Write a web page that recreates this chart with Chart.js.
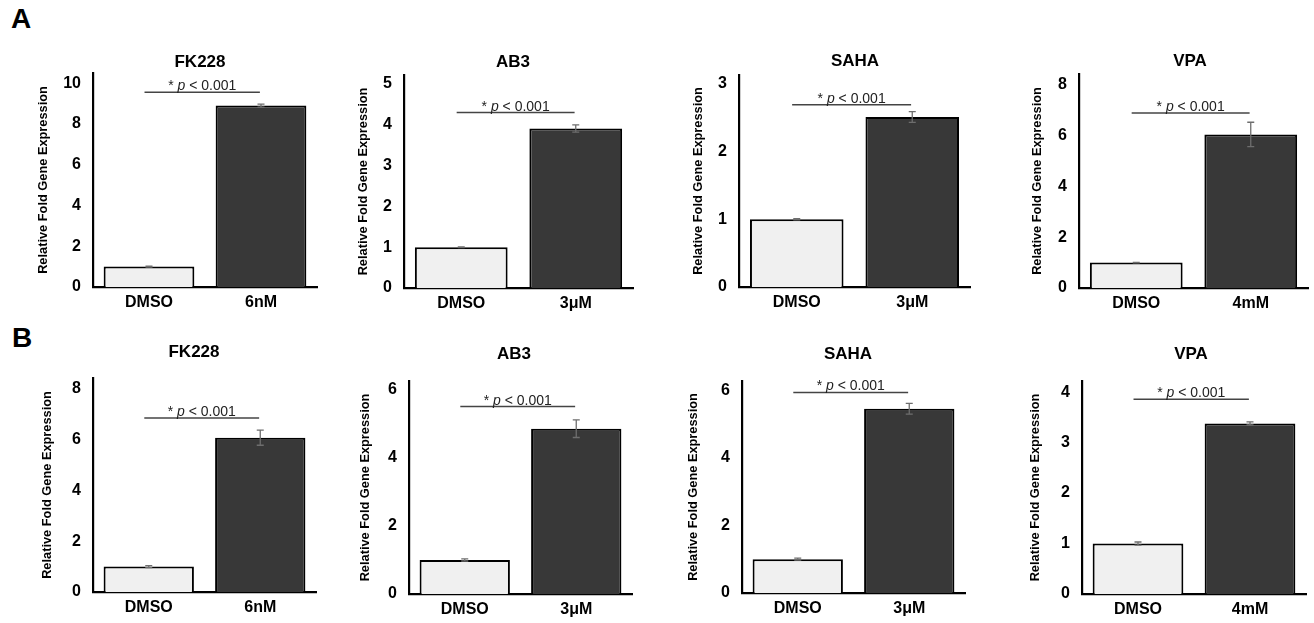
<!DOCTYPE html>
<html>
<head>
<meta charset="utf-8">
<script src="https://cdn.jsdelivr.net/npm/chart.js@4.4.0/dist/chart.umd.min.js"></script>
<style>
  body { margin: 0; background: #fff; width: 1314px; height: 623px; position: relative; overflow: hidden; font-family: "Liberation Sans", Arial, sans-serif; }
  canvas { position: absolute; }
  .letter { position: absolute; font-weight: bold; font-size: 28px; line-height: 28px; color: #000; }
</style>
</head>
<body>
<div class="letter" style="left:11px;top:5px">A</div>
<div class="letter" style="left:12px;top:324px">B</div>
<script>
const drugs = ['FK228', 'AB3', 'SAHA', 'VPA'];
const doses = ['6nM', '3μM', '3μM', '4mM'];
const control = 'DMSO';
const pParts = ['* ', 'p', ' < 0.001'];

// Panel A
const valuesA = [[1.0, 8.9], [1.0, 3.91], [1.0, 2.51], [1.0, 6.05]];
const errorsA = [[0.02, 0.07], [0.01, 0.09], [0.01, 0.08], [0.01, 0.48]];
const ticksA = [[0, 2, 4, 6, 8, 10], [0, 1, 2, 3, 4, 5], [0, 1, 2, 3], [0, 2, 4, 6, 8]];
const axisMaxA = [10.5, 5.22, 3.13, 8.43];
const bracketA = [9.55, 4.3, 2.69, 6.89];

// Panel B
const valuesB = [[1.0, 6.08], [1.0, 4.86], [1.0, 5.45], [1.0, 3.38]];
const errorsB = [[0.04, 0.3], [0.03, 0.26], [0.03, 0.16], [0.03, 0.03]];
const ticksB = [[0, 2, 4, 6, 8], [0, 2, 4, 6], [0, 2, 4, 6], [0, 1, 2, 3, 4]];
const axisMaxB = [8.43, 6.26, 6.27, 4.22];
const bracketB = [6.85, 5.51, 5.93, 3.86];

// where the bracket starts/ends, in category units
const bracketSpan = [-0.04, 0.99];

// plot frames on the page: left, right, top, bottom of axes, title centre, y title centre
const framesA = [
    { L: 93, R: 317, T: 73, B: 287, tx: 200, ty: 62, yt: 43 },
    { L: 404, R: 633, T: 75, B: 288, tx: 513, ty: 62, yt: 363 },
    { L: 739, R: 970, T: 75, B: 287, tx: 855, ty: 61, yt: 698 },
    { L: 1079, R: 1308, T: 74, B: 288, tx: 1190, ty: 61, yt: 1037 }
];
const framesB = [
    { L: 93, R: 316, T: 378, B: 592, tx: 194, ty: 352, yt: 47 },
    { L: 409, R: 632, T: 381, B: 594, tx: 514, ty: 354, yt: 365 },
    { L: 742, R: 965, T: 381, B: 593, tx: 848, ty: 354, yt: 693 },
    { L: 1082, R: 1306, T: 381, B: 594, tx: 1191, ty: 354, yt: 1035 }
];

const FONT = '"Liberation Sans", Arial, sans-serif';
Chart.defaults.font.family = FONT;
Chart.defaults.color = '#000';

const yW = 92, padTop = 50, padRight = 6, xH = 30;

const annotate = {
    id: 'annotate',
    afterDatasetsDraw(chart, args, opts) {
        const p = opts.panel;
        if (!p) return;
        const ctx = chart.ctx;
        const xs = chart.scales.x, ys = chart.scales.y;
        ctx.save();

        // error bars
        ctx.strokeStyle = '#6e6e6e';
        ctx.lineWidth = 1.3;
        p.values.forEach((v, i) => {
            const cx = xs.getPixelForValue(i);
            const top = ys.getPixelForValue(v + p.errors[i]);
            const bot = ys.getPixelForValue(v - p.errors[i]);
            ctx.beginPath();
            ctx.moveTo(cx, top); ctx.lineTo(cx, bot);
            ctx.moveTo(cx - 3.5, top); ctx.lineTo(cx + 3.5, top);
            ctx.moveTo(cx - 3.5, bot); ctx.lineTo(cx + 3.5, bot);
            ctx.stroke();
        });

        // significance line
        const by = ys.getPixelForValue(p.bracket);
        const x0 = xs.getPixelForValue(bracketSpan[0]);
        const x1 = xs.getPixelForValue(bracketSpan[1]);
        ctx.strokeStyle = '#444';
        ctx.lineWidth = 1.5;
        ctx.beginPath();
        ctx.moveTo(x0, by); ctx.lineTo(x1, by);
        ctx.stroke();

        // "* p < 0.001" with italic p
        const fonts = ['14px ' + FONT, 'italic 14px ' + FONT, '14px ' + FONT];
        let total = 0;
        const widths = pParts.map((t, i) => { ctx.font = fonts[i]; const w = ctx.measureText(t).width; total += w; return w; });
        let tx = (x0 + x1) / 2 - total / 2;
        ctx.fillStyle = '#222';
        ctx.textAlign = 'left';
        ctx.textBaseline = 'alphabetic';
        pParts.forEach((t, i) => {
            ctx.font = fonts[i];
            ctx.fillText(t, tx, by - 2);
            tx += widths[i];
        });

        // panel title
        ctx.font = 'bold 17px ' + FONT;
        ctx.fillStyle = '#000';
        ctx.textAlign = 'center';
        ctx.textBaseline = 'middle';
        ctx.fillText(p.title, p.frame.tx - p.left, p.frame.ty - p.top);
        ctx.restore();
    }
};

function makePanel(title, dose, values, errors, ticks, max, bracket, frame) {
    const left = frame.L - yW;
    const top = frame.T - padTop;
    const canvas = document.createElement('canvas');
    canvas.width = frame.R - frame.L + yW + padRight;
    canvas.height = frame.B - frame.T + padTop + xH;
    canvas.style.left = left + 'px';
    canvas.style.top = top + 'px';
    document.body.appendChild(canvas);

    const panel = { title, values, errors, bracket, frame, left, top };

    new Chart(canvas.getContext('2d'), {
        type: 'bar',
        data: {
            labels: [control, dose],
            datasets: [{
                data: values,
                backgroundColor: ['#f0f0f0', '#383838'],
                borderColor: '#000',
                borderWidth: 2,
                barPercentage: 0.81,
                categoryPercentage: 1
            }]
        },
        options: {
            responsive: false,
            animation: false,
            layout: { padding: { top: padTop, right: padRight, left: 0, bottom: 0 } },
            scales: {
                x: {
                    grid: { display: false, drawTicks: false },
                    border: { display: true, color: '#000', width: 2.2 },
                    ticks: { font: { size: 16, weight: 'bold' }, color: '#000', padding: 6 },
                    afterFit: s => { s.height = xH; }
                },
                y: {
                    min: 0,
                    max: max,
                    grid: { display: false, drawTicks: false },
                    border: { display: true, color: '#000', width: 2.2 },
                    ticks: { font: { size: 16, weight: 'bold' }, color: '#000', padding: 12 },
                    afterBuildTicks: s => { s.ticks = ticks.map(v => ({ value: v })); },
                    afterFit: s => { s.width = yW; },
                    title: {
                        display: true,
                        text: 'Relative Fold Gene Expression',
                        font: { size: 12.8, weight: 'bold' },
                        color: '#000',
                        padding: { top: frame.yt - left - 7.7, bottom: 0 }
                    }
                }
            },
            plugins: {
                legend: { display: false },
                tooltip: { enabled: false },
                annotate: { panel: panel }
            }
        },
        plugins: [annotate]
    });
}

for (let i = 0; i < 4; i++) {
    makePanel(drugs[i], doses[i], valuesA[i], errorsA[i], ticksA[i], axisMaxA[i], bracketA[i], framesA[i]);
    makePanel(drugs[i], doses[i], valuesB[i], errorsB[i], ticksB[i], axisMaxB[i], bracketB[i], framesB[i]);
}
</script>
</body>
</html>
